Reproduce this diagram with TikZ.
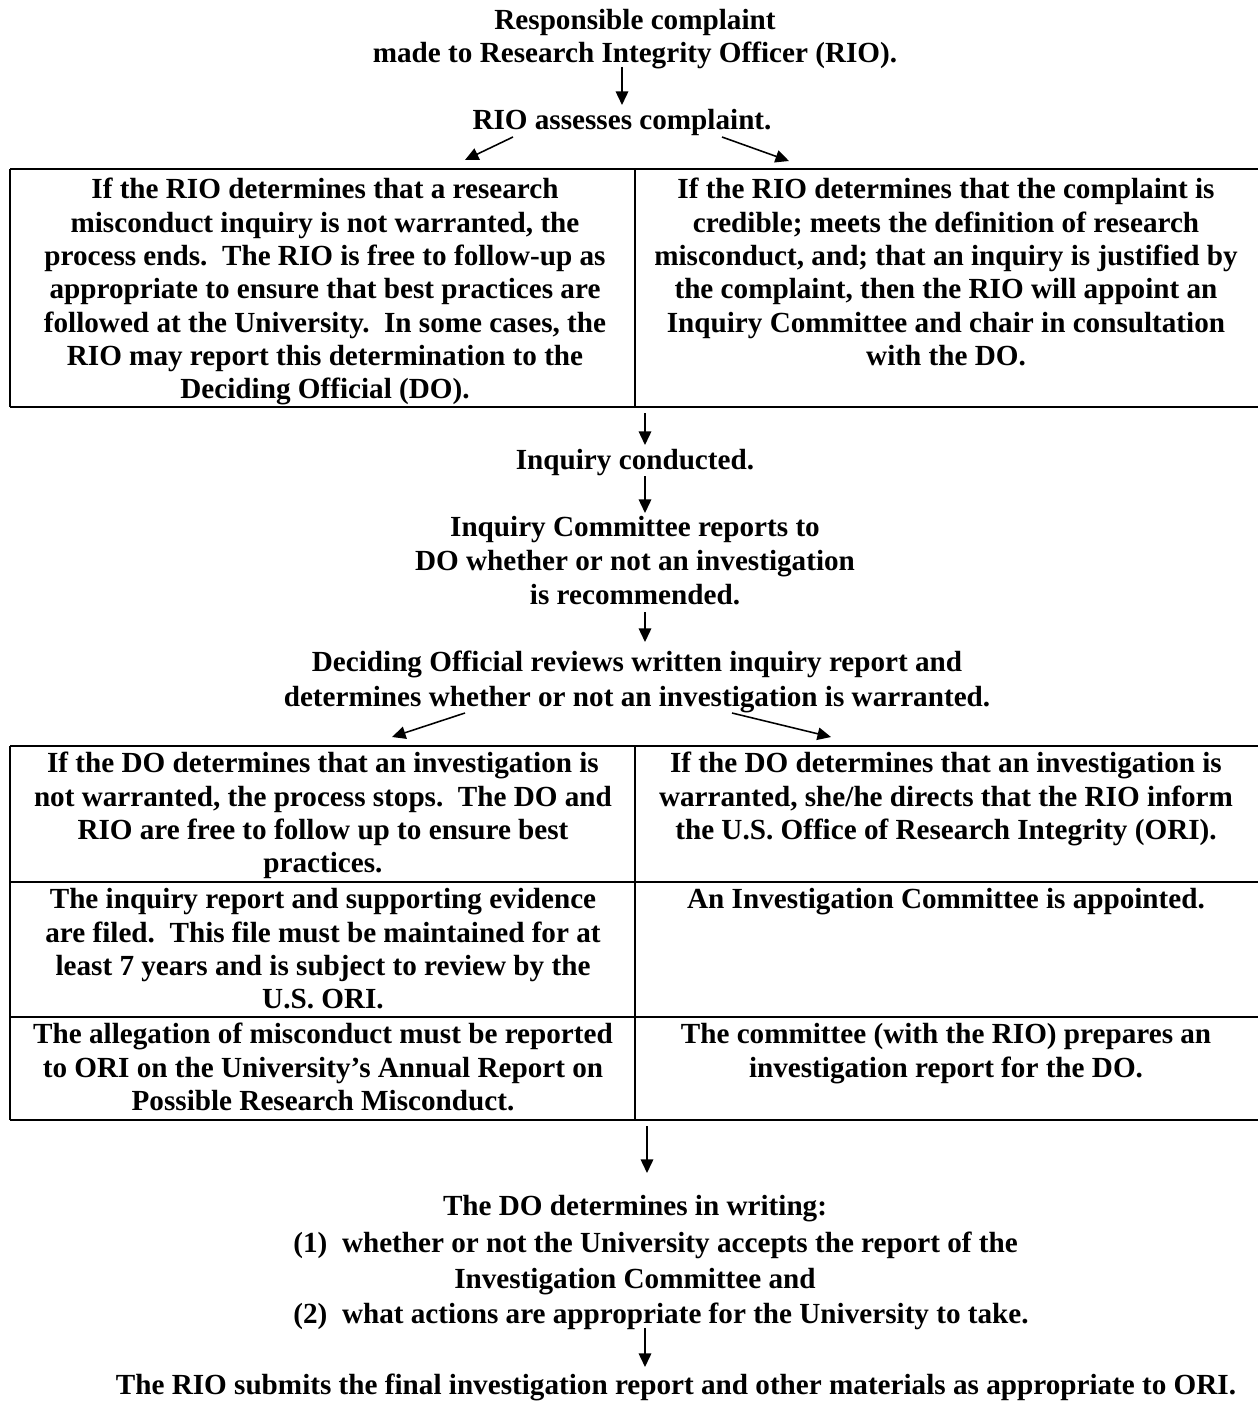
\documentclass[tikz,border=0pt]{standalone}
\usepackage{fontspec}
\setmainfont{Liberation Serif}
\usetikzlibrary{arrows.meta}
\begin{document}
\begin{tikzpicture}[x=0.48pt,y=-0.48pt,
  txt/.style={font=\bfseries\fontsize{14}{16}\selectfont, align=center, inner sep=0pt, anchor=north},
  arr/.style={line width=0.75pt, -{Triangle[length=6.5pt,width=6pt]}},
  outer/.style={line width=1.3pt},
  inner/.style={line width=0.9pt}]
\useasboundingbox (0,0) rectangle (1257,1401);

% top texts
\node[txt] (resp) at (635,9) {Responsible complaint\\made to Research Integrity Officer (RIO).};
\node[txt] (rio) at (622,109) {RIO assesses complaint.};

% table 1
\draw[outer] (10,169) -- (1258,169);
\draw[outer] (10,407) -- (1258,407);
\draw[inner] (10,169) -- (10,407);
\draw[inner] (635,169) -- (635,407);
\node[txt] (t1l) at (325,178) {If the RIO determines that a research\\misconduct inquiry is not warranted, the\\process ends.\ \ The RIO is free to follow-up as\\appropriate to ensure that best practices are\\followed at the University.\ \ In some cases, the\\RIO may report this determination to the\\Deciding Official (DO).};
\node[txt] (t1r) at (946,178) {If the RIO determines that the complaint is\\credible; meets the definition of research\\misconduct, and; that an inquiry is justified by\\the complaint, then the RIO will appoint an\\Inquiry Committee and chair in consultation\\with the DO.};

% middle texts
\node[txt] (inq) at (635,449) {Inquiry conducted.};
\node[txt, font=\bfseries\fontsize{14}{16.4}\selectfont] (icr) at (635,516) {Inquiry Committee reports to\\DO whether or not an investigation\\is recommended.};
\node[txt, font=\bfseries\fontsize{14}{16.8}\selectfont] (dor) at (637,651) {Deciding Official reviews written inquiry report and\\determines whether or not an investigation is warranted.};

% table 2
\draw[outer] (10,746) -- (1258,746);
\draw[inner] (10,882) -- (1258,882);
\draw[inner] (10,1017) -- (1258,1017);
\draw[outer] (10,1120) -- (1258,1120);
\draw[inner] (10,746) -- (10,1120);
\draw[inner] (635,746) -- (635,1120);
\node[txt] (a1) at (323,752) {If the DO determines that an investigation is\\not warranted, the process stops.\ \ The DO and\\RIO are free to follow up to ensure best\\practices.};
\node[txt] (b1) at (946,752) {If the DO determines that an investigation is\\warranted, she/he directs that the RIO inform\\the U.S. Office of Research Integrity (ORI).};
\node[txt] (a2) at (323,888) {The inquiry report and supporting evidence\\are filed.\ \ This file must be maintained for at\\least 7 years and is subject to review by the\\U.S. ORI.};
\node[txt] (b2) at (946,888) {An Investigation Committee is appointed.};
\node[txt] (a3) at (323,1023) {The allegation of misconduct must be reported\\to ORI on the University's Annual Report on\\Possible Research Misconduct.};
\node[txt] (b3) at (946,1023) {The committee (with the RIO) prepares an\\investigation report for the DO.};

% bottom texts
\node[txt] (d1) at (635,1195) {The DO determines in writing:};
\node[txt, anchor=north west] (d2) at (293,1232) {(1)\ \ whether or not the University accepts the report of the};
\node[txt] (d3) at (635,1268) {Investigation Committee and};
\node[txt, anchor=north west] (d4) at (293,1303) {(2)\ \ what actions are appropriate for the University to take.};
\node[txt] (fin) at (676,1374) {The RIO submits the final investigation report and other materials as appropriate to ORI.};

% connector end points
\coordinate (c1a) at (622,67);  \coordinate (c1b) at (622,105);
\coordinate (c2a) at (513,137); \coordinate (c2b) at (465,160);
\coordinate (c3a) at (722,137); \coordinate (c3b) at (789,161);
\coordinate (c4a) at (645,413); \coordinate (c4b) at (645,445);
\coordinate (c5a) at (645,476); \coordinate (c5b) at (645,513);
\coordinate (c6a) at (645,612); \coordinate (c6b) at (645,642);
\coordinate (c7a) at (465,713); \coordinate (c7b) at (392,737);
\coordinate (c8a) at (732,713); \coordinate (c8b) at (831,737);
\coordinate (c9a) at (647,1126); \coordinate (c9b) at (647,1173);
\coordinate (c10a) at (645,1328); \coordinate (c10b) at (645,1367);

\draw[arr] (c1a) -- (c1b);
\draw[arr] (c2a) -- (c2b);
\draw[arr] (c3a) -- (c3b);
\draw[arr] (c4a) -- (c4b);
\draw[arr] (c5a) -- (c5b);
\draw[arr] (c6a) -- (c6b);
\draw[arr] (c7a) -- (c7b);
\draw[arr] (c8a) -- (c8b);
\draw[arr] (c9a) -- (c9b);
\draw[arr] (c10a) -- (c10b);
\end{tikzpicture}
\end{document}
